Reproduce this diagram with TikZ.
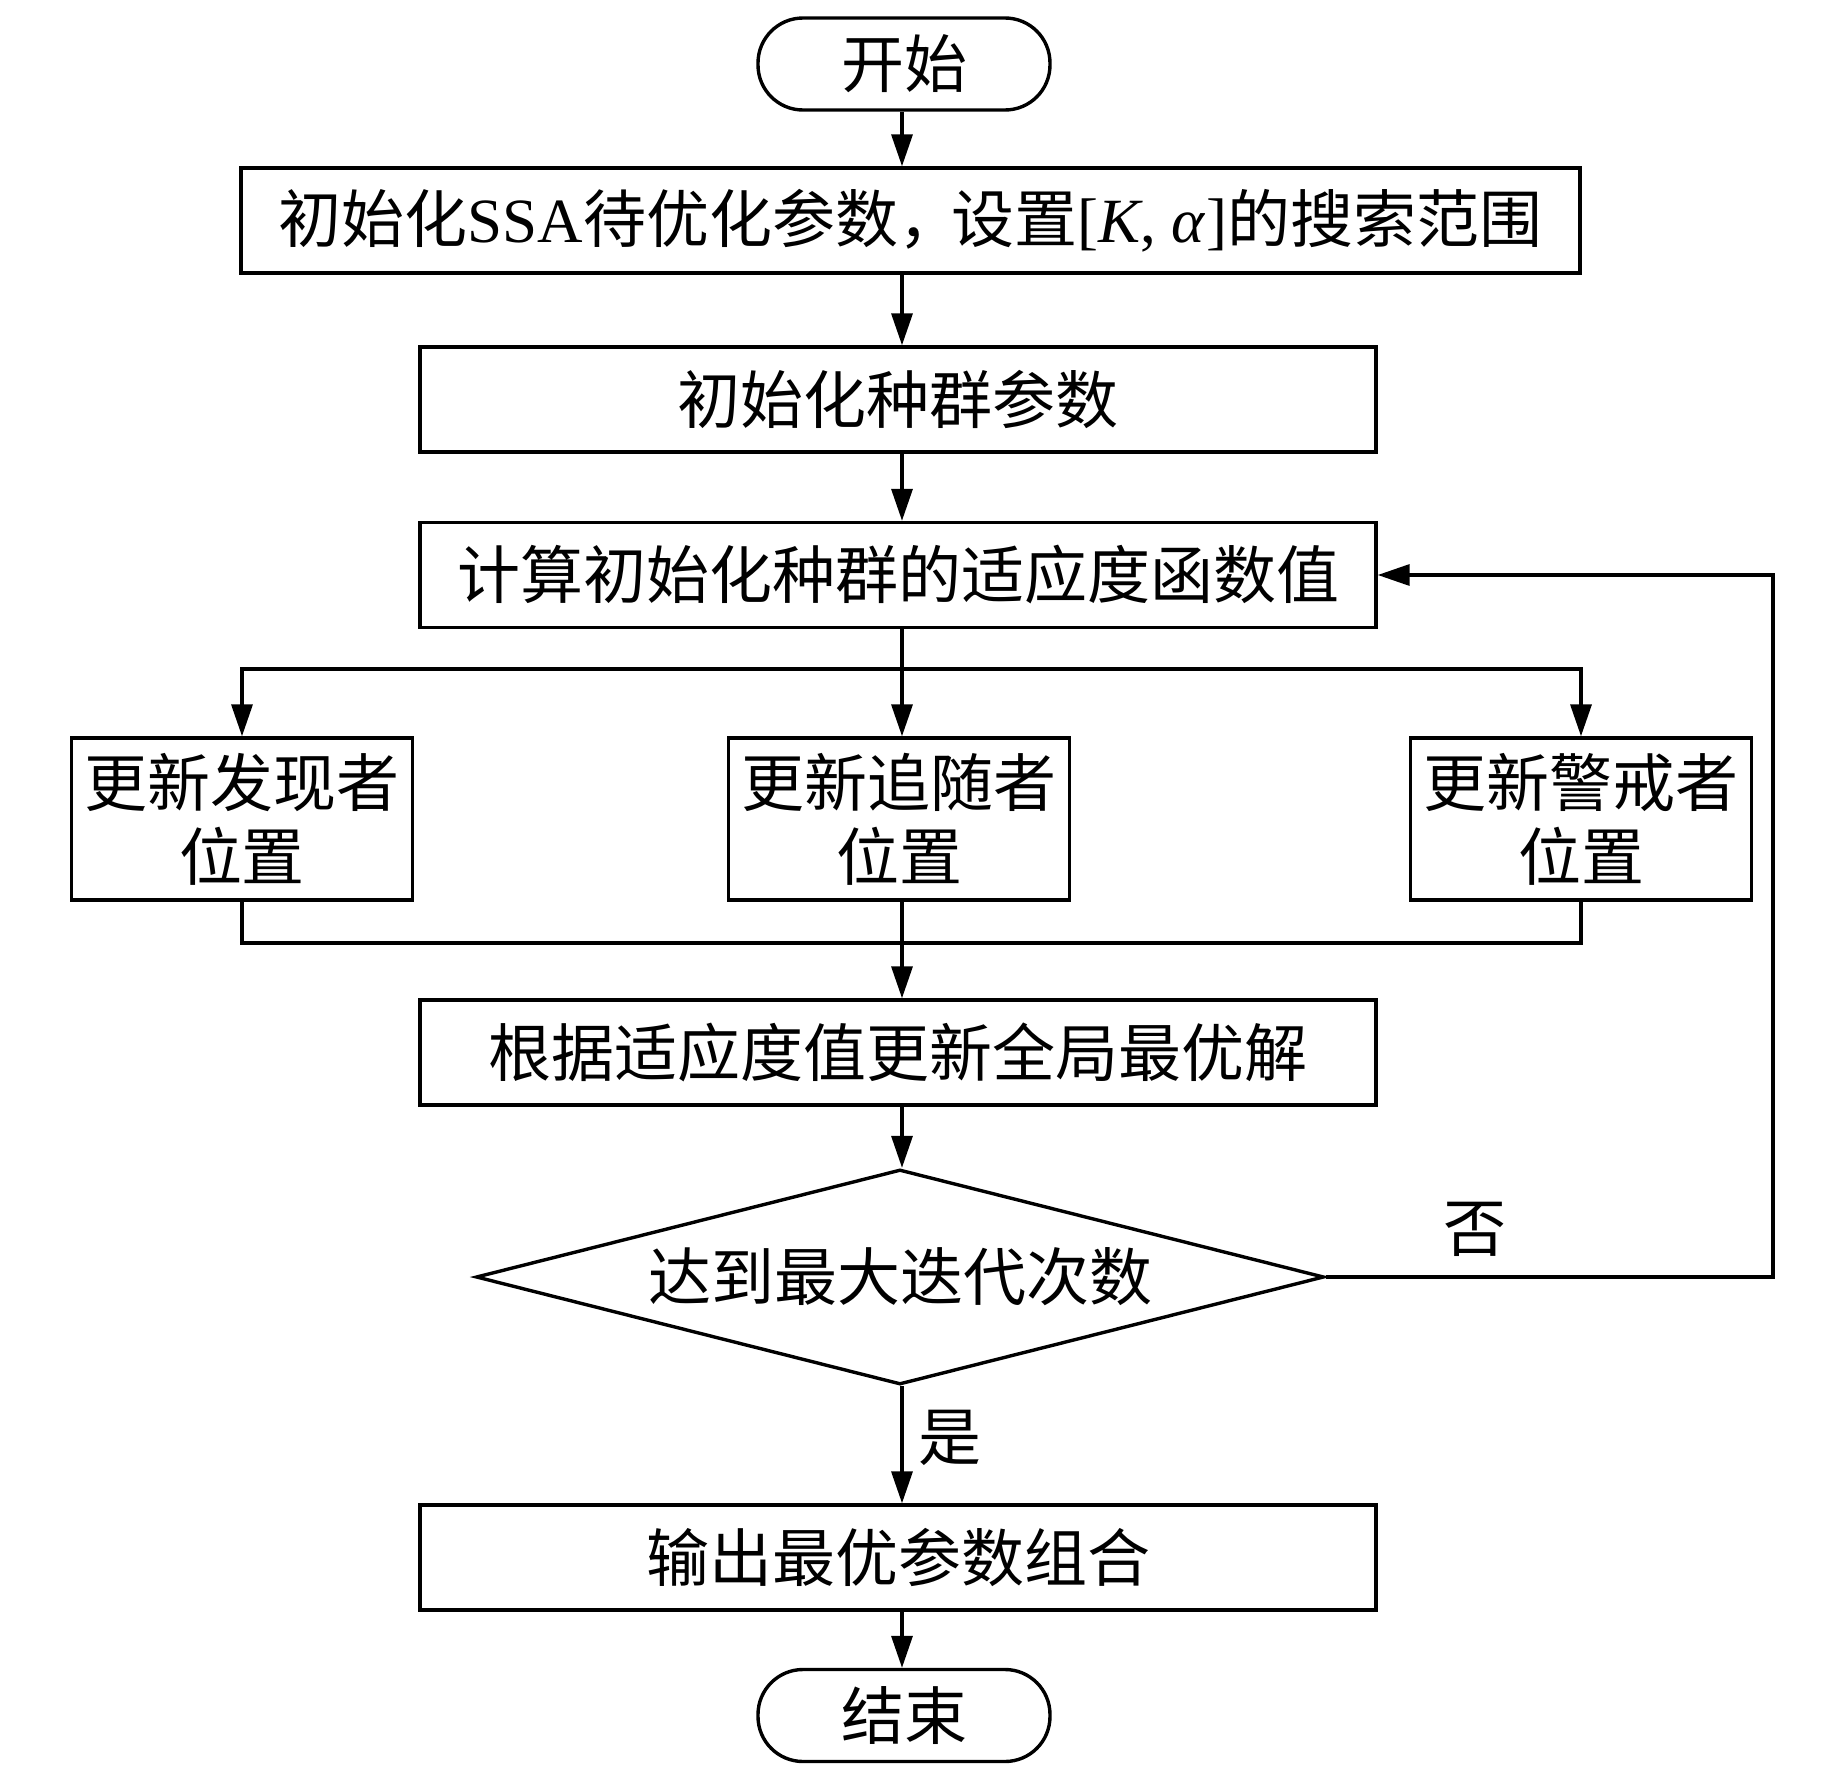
\documentclass[tikz,border=0pt]{standalone}
\usepackage{fontspec}
\setmainfont{Liberation Serif}
\newfontfamily\cjk{Noto Sans CJK SC}
\usetikzlibrary{arrows.meta,shapes.geometric}
\begin{document}
\begin{tikzpicture}[x=0.5pt,y=-0.5pt,line width=1.7pt,
  txt/.style={font=\cjk\fontsize{31.5}{37}\selectfont},
  box/.style={draw,line width=1.7pt,inner sep=0pt,align=center,txt},
  term/.style={box,rounded corners=22.5pt,minimum width=146pt,minimum height=46pt},
  wide/.style={box,minimum width=478pt,minimum height=52.5pt},
  sub/.style={box,minimum width=170.5pt,minimum height=81pt},
  arr/.style={-{Triangle[length=16pt,width=10.5pt]}}]
\useasboundingbox (0,0) rectangle (1843,1772);

\node[term] (start) at (904,64) {开始};
\node[box,minimum width=669.5pt,minimum height=52.5pt] (b1) at (910.5,220.5)
  {初始化{\rmfamily SSA}待优化参数，\kern-5pt 设置{\rmfamily [\textit{K}, \textit{α}]}的搜索范围};
\node[wide] (b2) at (898,399.5) {初始化种群参数};
\node[wide] (b3) at (898,575) {计算初始化种群的适应度函数值};
\node[sub] (lft) at (242,819) {更新发现者\\位置};
\node[sub] (mid) at (899,819) {更新追随者\\位置};
\node[sub] (rgt) at (1581,819) {更新警戒者\\位置};
\node[wide] (b4) at (898,1052.5) {根据适应度值更新全局最优解};
\node[box,shape=diamond,aspect=3.95,minimum width=424pt,minimum height=107.5pt] (dec) at (900,1277) {达到最大迭代次数};
\node[wide] (b5) at (898,1557.5) {输出最优参数组合};
\node[term] (stop) at (904,1715.5) {结束};

\coordinate (br) at (902,669);
\coordinate (mg) at (902,943);
\coordinate (lp1) at (1773,1277);
\coordinate (lp2) at (1773,575);

\draw[arr] (br |- start.south) -- (br |- b1.north);
\draw[arr] (br |- b1.south) -- (br |- b2.north);
\draw[arr] (br |- b2.south) -- (br |- b3.north);
\draw (br |- b3.south) -- (br);
\draw[arr] (br) -- (br |- mid.north);
\draw[arr] (br) -| (lft.north);
\draw[arr] (br) -| (rgt.north);
\draw (lft.south) |- (mg) -| (rgt.south);
\draw[arr] (br |- mid.south) -- (br |- b4.north);
\draw[arr] (br |- b4.south) -- (br |- dec.north);
\draw[arr] (br |- dec.south) -- (br |- b5.north);
\draw[arr] (br |- b5.south) -- (br |- stop.north);
\draw[arr] (dec.east) -- (lp1) -- (lp2) -- (b3.east);

\node[txt] (yes) at (950,1438) {是};
\node[txt] (no) at (1475,1229) {否};
\end{tikzpicture}
\end{document}
